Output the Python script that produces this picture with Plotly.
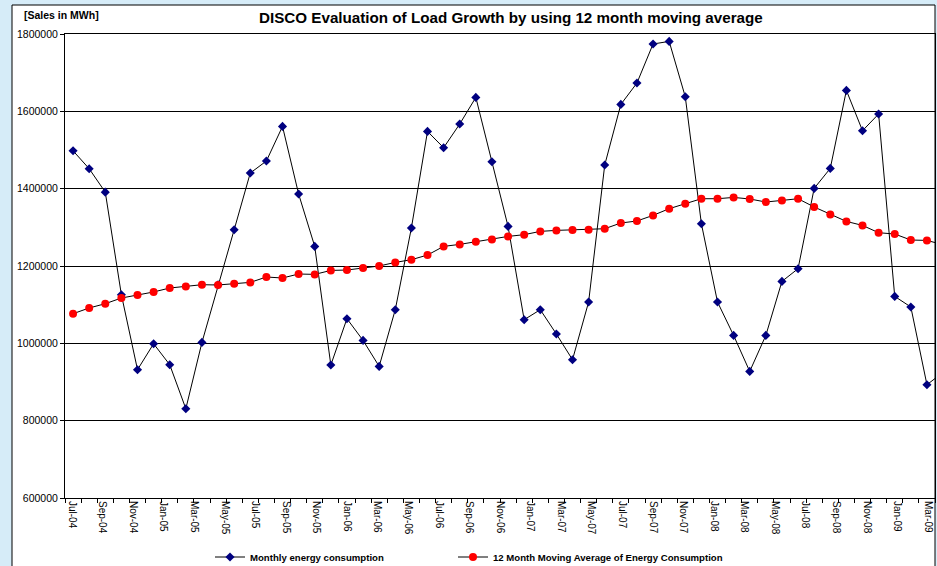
import plotly.graph_objects as go

# ---- data ----
monthly = [1498000, 1451600, 1391000, 1125700, 931800, 999000, 944700, 830900, 1002400, 1151600,
           1293800, 1440500, 1471500, 1561000, 1386200, 1250700, 944000, 1063700, 1007600, 940400,
           1087000, 1298300, 1548100, 1505900, 1567200, 1636000, 1469700, 1302400, 1061100, 1087000,
           1024100, 957700, 1106900, 1461200, 1617900, 1673200, 1774100, 1780900, 1637800, 1309400,
           1106900, 1020500, 927400, 1020500, 1160200, 1193000, 1400700, 1452400, 1654100, 1549900,
           1593100, 1121400, 1094000, 893000, 925000]
moving_avg = [1076600, 1091400, 1102500, 1117200, 1125000, 1132800, 1143100, 1147200, 1151600, 1150900,
              1154200, 1157600, 1171500, 1169000, 1179300, 1178300, 1188600, 1189600, 1194800, 1200000,
              1209300, 1216300, 1228400, 1250700, 1255900, 1262800, 1268800, 1276500, 1281000, 1289500,
              1292100, 1293100, 1293900, 1296400, 1311200, 1316400, 1330900, 1348200, 1361100, 1374000,
              1374000, 1377400, 1373300, 1365500, 1369600, 1374000, 1352600, 1333400, 1315300, 1305000,
              1286100, 1282700, 1267200, 1266200, 1255000]
tick_labels = ["Jul-04", "Sep-04", "Nov-04", "Jan-05", "Mar-05", "May-05", "Jul-05", "Sep-05",
               "Nov-05", "Jan-06", "Mar-06", "May-06", "Jul-06", "Sep-06", "Nov-06", "Jan-07",
               "Mar-07", "May-07", "Jul-07", "Sep-07", "Nov-07", "Jan-08", "Mar-08", "May-08",
               "Jul-08", "Sep-08", "Nov-08", "Jan-09", "Mar-09"]
y_ticks = [600000, 800000, 1000000, 1200000, 1400000, 1600000, 1800000]

FONT = "Liberation Sans, Arial, sans-serif"
W, H = 937, 566
L, R, T, B = 65, 2, 34, 68
pw, ph = W - L - R, H - T - B

x_idx = list(range(len(monthly)))
label_step = 1.8975
tick_pos = [-0.0655 + label_step * k for k in range(len(tick_labels))]

fig = go.Figure()
fig.add_trace(go.Scatter(
    x=x_idx, y=monthly, mode="lines+markers", name="<b>Monthly energy consumption</b>",
    line=dict(color="black", width=1),
    marker=dict(symbol="diamond", color="#000080", size=7),
    legend="legend",
))
fig.add_trace(go.Scatter(
    x=x_idx, y=moving_avg, mode="lines+markers",
    name="<b>12 Month Moving Average of Energy Consumption</b>",
    line=dict(color="black", width=1),
    marker=dict(symbol="circle", color="#ff0000", size=8),
    legend="legend2",
))

def px_x(p):
    return (p - L) / pw

def px_y(p):
    return (H - B - p) / ph

fig.add_shape(type="rect", xref="paper", yref="paper",
              x0=px_x(12), x1=px_x(935), y0=px_y(575), y1=px_y(5),
              fillcolor="white", line=dict(color="black", width=1), layer="below")

fig.add_annotation(text="<b>[Sales in MWh]</b>", xref="paper", yref="paper",
                   x=px_x(22), y=px_y(15), xanchor="left", yanchor="middle",
                   showarrow=False, font=dict(family=FONT, size=10.5, color="black"))
fig.add_annotation(text="<b>DISCO Evaluation of Load Growth by using 12 month moving average</b>",
                   xref="paper", yref="paper", x=px_x(511), y=px_y(18),
                   xanchor="center", yanchor="middle", showarrow=False,
                   font=dict(family=FONT, size=15.2, color="black"))

fig.update_layout(
    width=W, height=H,
    margin=dict(l=L, r=R, t=T, b=B, pad=0, autoexpand=False),
    paper_bgcolor="#d6ecf8",
    plot_bgcolor="rgba(0,0,0,0)",
    font=dict(family=FONT, color="black"),
    showlegend=True,
    legend=dict(x=px_x(210), y=px_y(557), xanchor="left", yanchor="middle",
                orientation="h", bgcolor="rgba(0,0,0,0)",
                font=dict(family=FONT, size=9.6, color="black"),
                itemwidth=30),
    legend2=dict(x=px_x(453), y=px_y(557), xanchor="left", yanchor="middle",
                 orientation="h", bgcolor="rgba(0,0,0,0)",
                 font=dict(family=FONT, size=9.6, color="black"),
                 itemwidth=30),
    xaxis=dict(
        range=[-0.5, 53.5], showgrid=False, zeroline=False, automargin=False,
        tickmode="array", tickvals=tick_pos, ticktext=tick_labels,
        tickangle=90, ticks="", tickfont=dict(family=FONT, size=10, color="black"),
        showline=True, linecolor="black", linewidth=1, mirror=True,
        minor=dict(tickmode="linear", tick0=-0.5, dtick=1, ticks="outside",
                   ticklen=4, tickcolor="black", tickwidth=1, showgrid=False),
        fixedrange=True,
    ),
    yaxis=dict(
        range=[600000, 1800000], tickmode="array", tickvals=y_ticks,
        ticktext=[str(v) for v in y_ticks], automargin=False,
        showgrid=True, gridcolor="black", gridwidth=1, zeroline=False,
        ticks="outside", ticklen=4, tickcolor="black",
        tickfont=dict(family=FONT, size=10.5, color="black"),
        showline=True, linecolor="black", linewidth=1, mirror=True,
        fixedrange=True,
    ),
)

fig.write_html("out.html", config={"displayModeBar": False},
               post_script="document.body.style.margin='0';document.body.style.overflow='hidden';")
